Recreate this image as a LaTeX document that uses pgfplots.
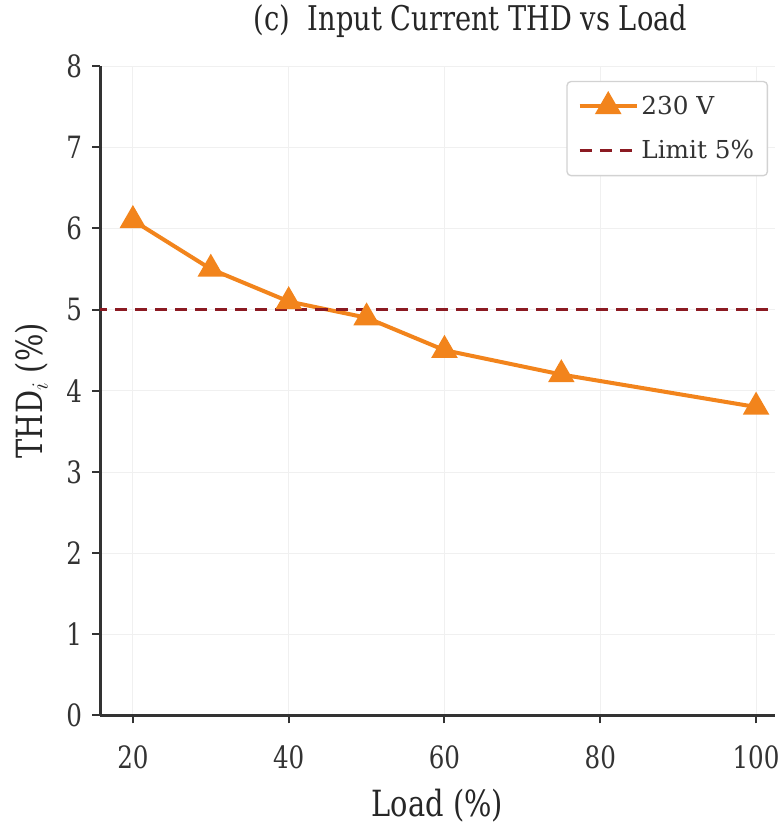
\documentclass[border=0pt]{standalone}
\usepackage{pgfplots}
\pgfplotsset{compat=1.18}
\usepackage{fontspec}
\setmainfont[FakeStretch=0.8]{DejaVu Serif}
\newfontfamily\legendfont{DejaVu Serif}
\definecolor{thdorange}{HTML}{F2841C}
\definecolor{limitred}{HTML}{8B1A22}

\begin{document}
\begin{tikzpicture}
\begin{axis}[
    scale only axis,
    width=505pt, height=486pt,
    xmin=15.8, xmax=102.4,
    ymin=0, ymax=8,
    xtick={20,40,60,80,100},
    ytick={0,1,...,8},
    axis x line*=bottom,
    axis y line*=left,
    axis line style={line width=2pt, black!80, -},
    tick style={line width=1.5pt, black!80},
    tick align=outside,
    major tick length=6pt,
    grid=major,
    major grid style={line width=0.6pt, gray!12},
    tick label style={font=\fontsize{23}{25}\selectfont, black!80},
    xticklabel style={yshift=-13pt},
    yticklabel style={xshift=-4pt},
    /pgf/number format/assume math mode=true,
    xlabel={Load (\%)},
    ylabel={THD$_i$ (\%)},
    label style={font=\fontsize{27}{30}\selectfont, black!85},
    xlabel style={at={(axis description cs:0.5,0)}, anchor=north, yshift=-52pt},
    ylabel style={at={(axis description cs:-0.07,0.5)}, anchor=south},
    title={(c)\ \ Input Current THD vs Load},
    title style={font=\fontsize{25.5}{30}\selectfont, black!85,
        at={(axis description cs:0.549,1)}, anchor=south, yshift=12pt},
    legend style={font=\legendfont\fontsize{18.5}{21}\selectfont, text=black!80,
        draw=gray!35, rounded corners=3pt,
        line width=1pt, inner xsep=8pt, inner ysep=9pt,
        at={(rel axis cs:1,1)}, anchor=north east, xshift=-5pt, yshift=-11pt,
        row sep=14pt},
    legend cell align=left,
    legend image code/.code={
        \draw[mark repeat=2,mark phase=2] plot coordinates {(0cm,0cm) (0.75cm,0cm) (1.5cm,0cm)};
    },
]
\addplot[thdorange, line width=3pt, mark=triangle*, mark size=8.5pt,
    mark options={solid, fill=thdorange}] coordinates {
    (20,6.1) (30,5.5) (40,5.1) (50,4.9) (60,4.5) (75,4.2) (100,3.8)
};
\addlegendentry{230 V}
\addplot[limitred, line width=2.5pt, dash pattern=on 9pt off 6pt] coordinates {
    (10,5) (110,5)
};
\addlegendentry{Limit 5\%}
\end{axis}
\path (current axis.south west) ++(-75pt,0);
\end{tikzpicture}
\end{document}
